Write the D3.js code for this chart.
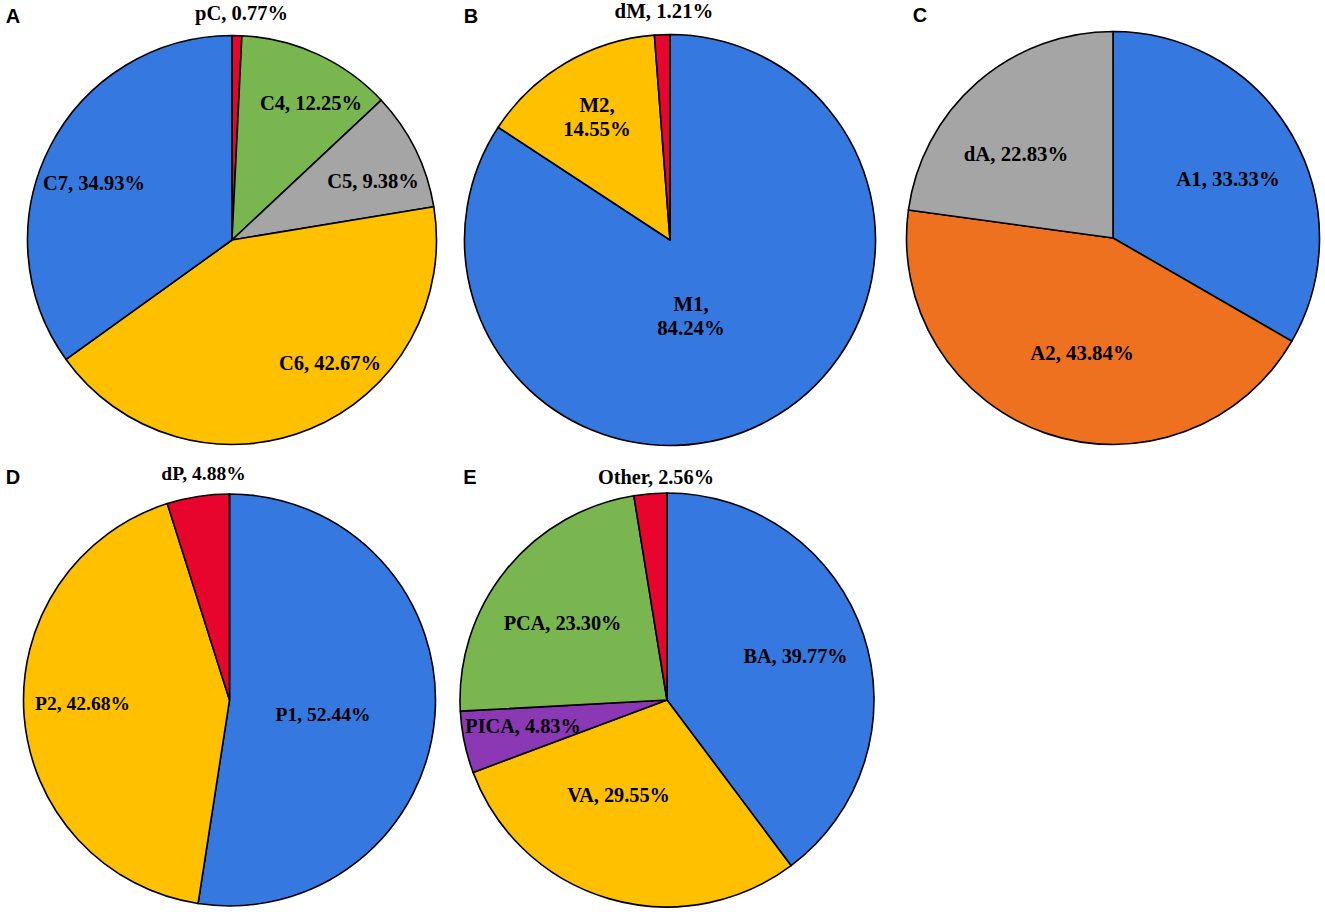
<!DOCTYPE html>
<html>
<head>
<meta charset="utf-8">
<script src="https://cdn.jsdelivr.net/npm/d3@7"></script>
<style>
    html, body { margin: 0; padding: 0; background: #fff; }
    svg { display: block; }
</style>
</head>
<body>
<svg id="chart" width="1325" height="912"></svg>
<script>
// values, clockwise from 12 o'clock
const namesA = ["pC", "C4", "C5", "C6", "C7"];
const valuesA = [0.77, 12.25, 9.38, 42.67, 34.93];

const namesB = ["M1", "M2", "dM"];
const valuesB = [84.24, 14.55, 1.21];

const namesC = ["A1", "A2", "dA"];
const valuesC = [33.33, 43.84, 22.83];

const namesD = ["P1", "P2", "dP"];
const valuesD = [52.44, 42.68, 4.88];

const namesE = ["BA", "VA", "PICA", "PCA", "Other"];
const valuesE = [39.77, 29.55, 4.83, 23.30, 2.56];

const colorOf = {
    pC: "#e8052d", C4: "#7ab650", C5: "#a5a5a5", C6: "#ffc000", C7: "#3579e0",
    M1: "#3579e0", M2: "#ffc000", dM: "#e8052d",
    A1: "#3579e0", A2: "#ee7120", dA: "#a5a5a5",
    P1: "#3579e0", P2: "#ffc000", dP: "#e8052d",
    BA: "#3579e0", VA: "#ffc000", PICA: "#8a38b4", PCA: "#7ab650", Other: "#e8052d"
};

// layout: pie centre, radius, font size, panel letter and label centres (offset from pie centre)
const panels = [
    {letter: "A", names: namesA, values: valuesA, cx: 232, cy: 240, r: 204.5, fs: 20.5, lx: 13, ly: 16,
     labels: [[9.5, -226], [79, -136], [141, -58], [98, 124], [-138, -56]]},
    {letter: "B", names: namesB, values: valuesB, cx: 670, cy: 240, r: 205.5, fs: 20.8, lx: 471, ly: 16,
     labels: [[21, 71], [-73, -128], [-6, -228]]},
    {letter: "C", names: namesC, values: valuesC, cx: 1113, cy: 238, r: 206.5, fs: 20.8, lx: 920, ly: 15,
     labels: [[115, -58], [-31, 116], [-97, -83]]},
    {letter: "D", names: namesD, values: valuesD, cx: 229.5, cy: 700, r: 206, fs: 19.5, lx: 13, ly: 477,
     labels: [[93.5, 15], [-147, 4], [-26, -226]]},
    {letter: "E", names: namesE, values: valuesE, cx: 667, cy: 700, r: 207, fs: 20.3, lx: 470, ly: 477,
     labels: [[128.5, -43], [-48.5, 96], [-144, 27], [-104.5, -76], [-11, -222]]}
];

// these labels wrap after the comma in the original
const wrapped = ["M1", "M2"];

const svg = d3.select("#chart");
const pie = d3.pie().sort(null).value(d => d.value);

panels.forEach(p => {
    const rows = p.names.map((name, i) => ({name: name, value: p.values[i]}));
    const arc = d3.arc().innerRadius(0).outerRadius(p.r);
    const g = svg.append("g").attr("transform", `translate(${p.cx},${p.cy})`);

    g.selectAll("path")
        .data(pie(rows))
        .join("path")
        .attr("d", arc)
        .attr("fill", d => colorOf[d.data.name])
        .attr("stroke", "#000")
        .attr("stroke-width", 1.6)
        .attr("stroke-linejoin", "round");

    g.selectAll("text")
        .data(rows)
        .join("text")
        .attr("text-anchor", "middle")
        .style("font", `bold ${p.fs}px 'Liberation Serif'`)
        .attr("fill", "#000")
        .each(function(d, i) {
            const [x, y] = p.labels[i];
            const pct = d.value.toFixed(2) + "%";
            if (wrapped.includes(d.name)) {
                d3.select(this).append("tspan").attr("x", x).attr("y", y).text(d.name + ",");
                d3.select(this).append("tspan").attr("x", x).attr("y", y + 24).text(pct);
            } else {
                d3.select(this).attr("x", x).attr("y", y + 6).text(`${d.name}, ${pct}`);
            }
        });

    svg.append("text")
        .attr("x", p.lx)
        .attr("y", p.ly + 7)
        .attr("text-anchor", "middle")
        .style("font", "bold 20px 'Liberation Sans'")
        .attr("fill", "#000")
        .text(p.letter);
});
</script>
</body>
</html>
